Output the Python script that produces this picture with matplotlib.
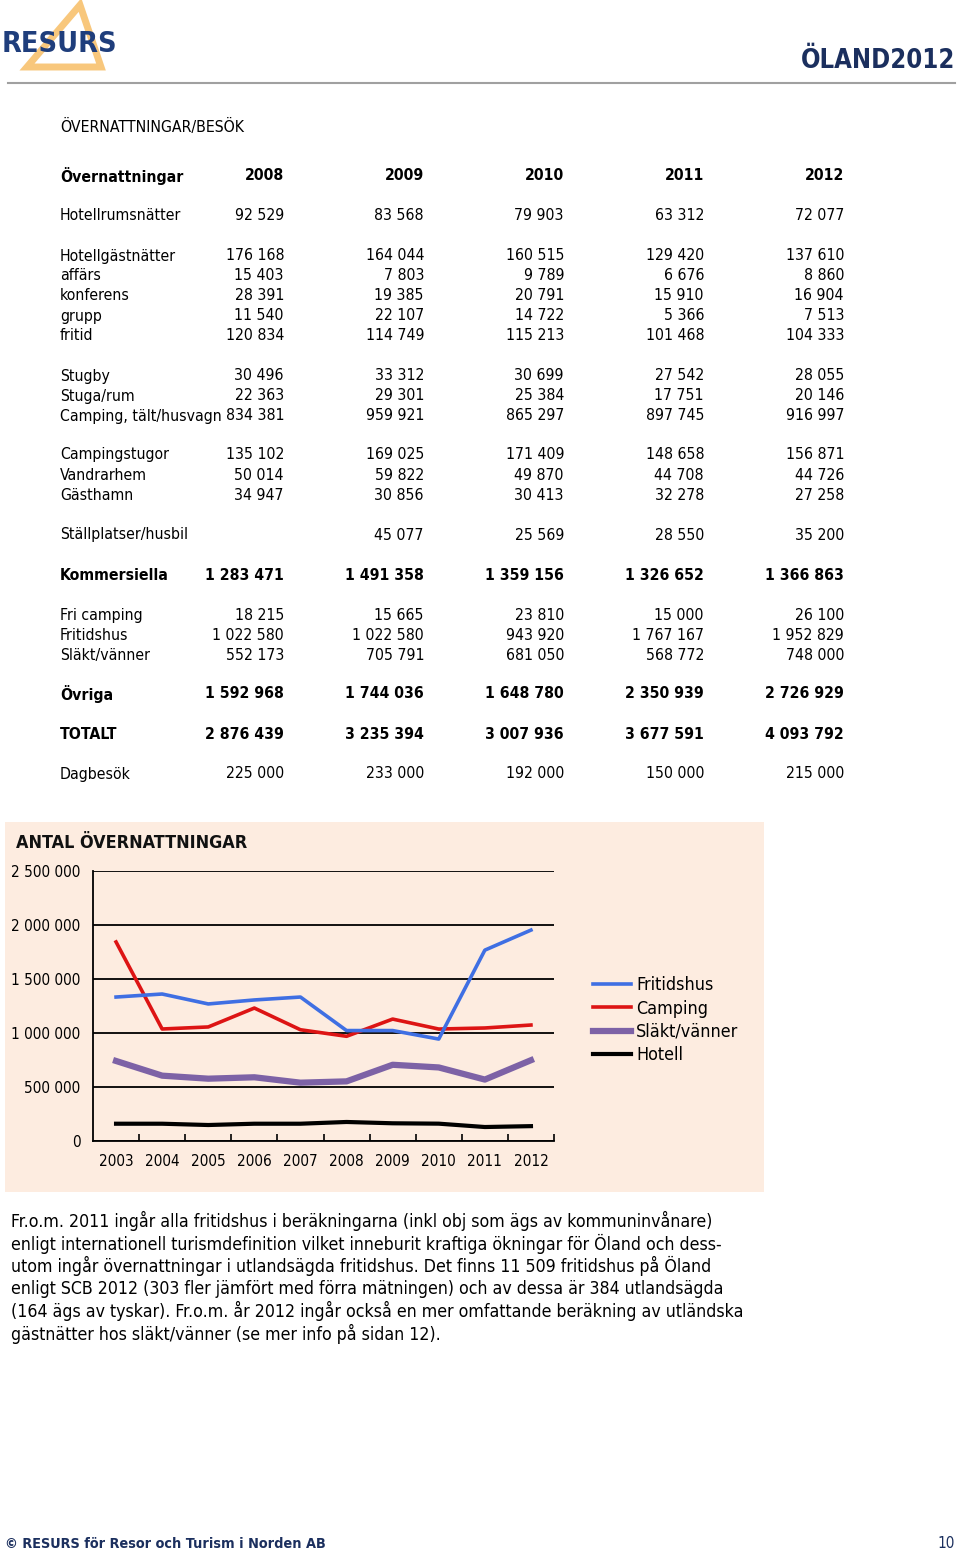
import matplotlib
matplotlib.use('Agg')
import matplotlib.pyplot as plt
from matplotlib.patches import Rectangle, Polygon
from matplotlib.lines import Line2D

W, H = 960, 1556

# ******** tabell: övernattningar/besök
years_tab = ['2008', '2009', '2010', '2011', '2012']
row_names = ['Hotellrumsnätter', 'Hotellgästnätter', 'affärs', 'konferens', 'grupp', 'fritid',
             'Stugby', 'Stuga/rum', 'Camping, tält/husvagn', 'Campingstugor', 'Vandrarhem',
             'Gästhamn', 'Ställplatser/husbil', 'Kommersiella', 'Fri camping', 'Fritidshus',
             'Släkt/vänner', 'Övriga', 'TOTALT', 'Dagbesök']
row_values = [
    ['92 529', '83 568', '79 903', '63 312', '72 077'],
    ['176 168', '164 044', '160 515', '129 420', '137 610'],
    ['15 403', '7 803', '9 789', '6 676', '8 860'],
    ['28 391', '19 385', '20 791', '15 910', '16 904'],
    ['11 540', '22 107', '14 722', '5 366', '7 513'],
    ['120 834', '114 749', '115 213', '101 468', '104 333'],
    ['30 496', '33 312', '30 699', '27 542', '28 055'],
    ['22 363', '29 301', '25 384', '17 751', '20 146'],
    ['834 381', '959 921', '865 297', '897 745', '916 997'],
    ['135 102', '169 025', '171 409', '148 658', '156 871'],
    ['50 014', '59 822', '49 870', '44 708', '44 726'],
    ['34 947', '30 856', '30 413', '32 278', '27 258'],
    ['', '45 077', '25 569', '28 550', '35 200'],
    ['1 283 471', '1 491 358', '1 359 156', '1 326 652', '1 366 863'],
    ['18 215', '15 665', '23 810', '15 000', '26 100'],
    ['1 022 580', '1 022 580', '943 920', '1 767 167', '1 952 829'],
    ['552 173', '705 791', '681 050', '568 772', '748 000'],
    ['1 592 968', '1 744 036', '1 648 780', '2 350 939', '2 726 929'],
    ['2 876 439', '3 235 394', '3 007 936', '3 677 591', '4 093 792'],
    ['225 000', '233 000', '192 000', '150 000', '215 000'],
]
bold_rows = ['Kommersiella', 'Övriga', 'TOTALT']

# ******** diagram: antal övernattningar
years = ['2003', '2004', '2005', '2006', '2007', '2008', '2009', '2010', '2011', '2012']
fritidshus = [1333000, 1361000, 1269000, 1306000, 1333000, 1022580, 1022580, 943920, 1767167, 1952829]
camping = [1843000, 1037000, 1056000, 1231000, 1030000, 969483, 1128946, 1036706, 1046403, 1073868]
slakt = [741000, 605000, 577000, 590000, 540000, 552173, 705791, 681050, 568772, 748000]
hotell = [160000, 160000, 148000, 160000, 160000, 176168, 164044, 160515, 129420, 137610]
y_ticks = [0, 500000, 1000000, 1500000, 2000000, 2500000]
y_ticklabels = ['0', '500 000', '1 000 000', '1 500 000', '2 000 000', '2 500 000']

text_lines = [
    'Fr.o.m. 2011 ingår alla fritidshus i beräkningarna (inkl obj som ägs av kommuninvånare)',
    'enligt internationell turismdefinition vilket inneburit kraftiga ökningar för Öland och dess-',
    'utom ingår övernattningar i utlandsägda fritidshus. Det finns 11 509 fritidshus på Öland',
    'enligt SCB 2012 (303 fler jämfört med förra mätningen) och av dessa är 384 utlandsägda',
    '(164 ägs av tyskar). Fr.o.m. år 2012 ingår också en mer omfattande beräkning av utländska',
    'gästnätter hos släkt/vänner (se mer info på sidan 12).',
]

plt.rcParams['font.family'] = 'DejaVu Sans'
FS = dict(fontstretch='condensed')
navy = '#1B2F5E'

fig = plt.figure(figsize=(W / 100, H / 100), dpi=100)
fig.patch.set_facecolor('white')


def T(x, y, s, **kw):
    kw.setdefault('va', 'center')
    kw.setdefault('fontstretch', 'condensed')
    fig.text(x / W, 1 - y / H, s, **kw)


# ******** sidhuvud
tri = Polygon([[80 / W, 1 - 5 / H], [27 / W, 1 - 67 / H], [101 / W, 1 - 67 / H]], closed=True,
              fill=False, edgecolor='#F8C77C', linewidth=5, transform=fig.transFigure, joinstyle='miter')
fig.patches.append(tri)
T(2, 44, 'RESURS', fontsize=20.6, fontweight='bold', color='#1F3E7C')
fig.add_artist(Line2D([8 / W, 955 / W], [1 - 83 / H, 1 - 83 / H], color='#A0A0A0', linewidth=1.5))
T(955, 61, 'ÖLAND2012', fontsize=18.4, fontweight='bold', color=navy, ha='right')

# ******** tabell
col_x = [284, 424, 564, 704, 844]
fsz = 11.3
T(60, 127, 'ÖVERNATTNINGAR/BESÖK', fontsize=fsz)
T(60, 176, 'Övernattningar', fontsize=fsz, fontweight='bold')
for x, yr in zip(col_x, years_tab):
    T(x, 176, yr, fontsize=fsz, fontweight='bold', ha='right')

row_y = [216, 256, 276, 296, 316, 336, 376, 396, 416, 455, 475, 495, 535, 575, 615, 635, 655, 694, 734, 774]
for name, vals, y in zip(row_names, row_values, row_y):
    w = 'bold' if name in bold_rows else 'normal'
    T(60, y, name, fontsize=fsz, fontweight=w)
    for x, v in zip(col_x, vals):
        T(x, y, v, fontsize=fsz, fontweight=w, ha='right')

# ******** diagram
fig.patches.append(Rectangle((5 / W, 1 - 1192 / H), 759 / W, 370 / H, transform=fig.transFigure,
                             facecolor='#FDECE0', edgecolor='none', zorder=-5))
T(16, 843, 'ANTAL ÖVERNATTNINGAR', fontsize=12.9, fontweight='bold', color='#111111')

ax = fig.add_axes([93 / W, 1 - 1141 / H, (554 - 93) / W, (1141 - 871) / H])
ax.set_zorder(2)
ax.set_facecolor('none')
x = range(len(years))
ax.plot(x, hotell, color='black', linewidth=3, label='Hotell', zorder=3)
ax.plot(x, slakt, color='#7D62A6', linewidth=4.5, label='Släkt/vänner', zorder=3)
ax.plot(x, camping, color='#DD1414', linewidth=2.6, label='Camping', zorder=3)
ax.plot(x, fritidshus, color='#3F6FE3', linewidth=2.6, label='Fritidshus', zorder=4)
ax.set_xlim(-0.5, len(years) - 0.5)
ax.set_ylim(0, 2500000)
ax.set_yticks(y_ticks)
ax.set_yticklabels(y_ticklabels, fontsize=11, **FS)
ax.yaxis.grid(True, color='black', linewidth=1.3)
ax.set_axisbelow(True)
ax.tick_params(axis='y', length=0, pad=9)
ax.set_xticks([i + 0.5 for i in range(len(years))])
ax.set_xticklabels([])
ax.set_xticks(list(x), minor=True)
ax.set_xticklabels(years, minor=True, fontsize=11, **FS)
ax.tick_params(axis='x', which='major', direction='in', length=5, width=1.2)
ax.tick_params(axis='x', which='minor', length=0, pad=9.5)
for s in ['top', 'right']:
    ax.spines[s].set_visible(False)
for s in ['left', 'bottom']:
    ax.spines[s].set_linewidth(1.3)

h, l = ax.get_legend_handles_labels()
order = [3, 2, 1, 0]
fig.legend([h[i] for i in order], [l[i] for i in order], loc='upper left',
           bbox_to_anchor=(577 / W, 1 - 960 / H), frameon=False,
           handlelength=2.1, handletextpad=0.3, labelspacing=0.3,
           prop=dict(family='DejaVu Sans', size=12.9, stretch='condensed'))

# ******** text
for i, line in enumerate(text_lines):
    T(11, 1221 + i * 22.6, line, fontsize=12.7)

# ******** sidfot
T(5, 1544, '© RESURS för Resor och Turism i Norden AB', fontsize=10.4, fontweight='bold', color=navy)
T(955, 1544, '10', fontsize=11, color=navy, ha='right')

fig.savefig('out.png', dpi=100)
